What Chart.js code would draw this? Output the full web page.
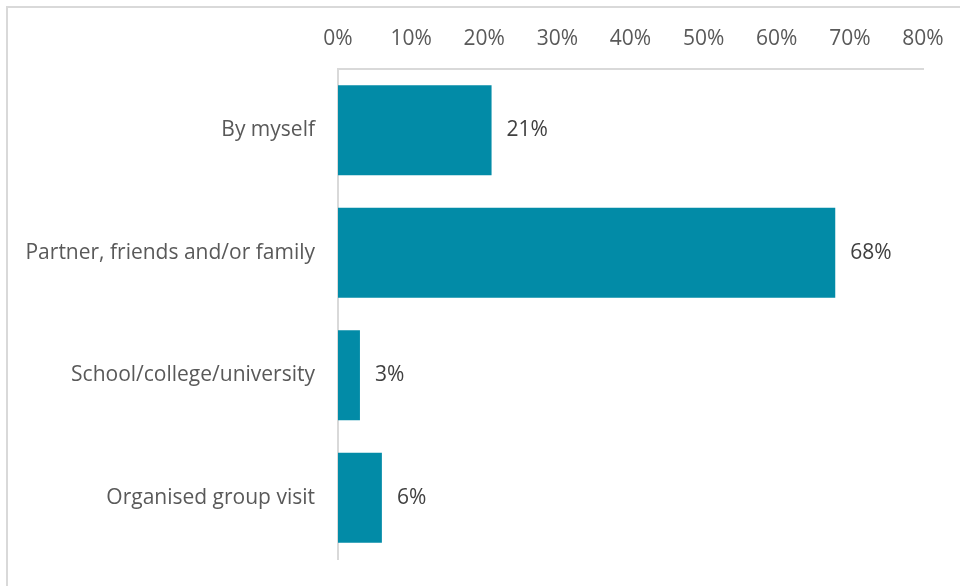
<!DOCTYPE html>
<html>
<head>
<meta charset="utf-8">
<title>Who did you visit with?</title>
<script src="https://cdn.jsdelivr.net/npm/chart.js@4.4.1/dist/chart.umd.min.js"></script>
<style>
  html, body { margin: 0; padding: 0; background: #fff; }
  #wrap { position: relative; width: 960px; height: 586px; overflow: hidden; }
  #frame {
    position: absolute; left: 6px; top: 6px; width: 1000px; height: 600px;
    border-left: 2px solid #d9d9d9; border-top: 2px solid #d9d9d9;
    box-sizing: border-box; pointer-events: none;
  }
  #visitChart { position: absolute; left: 0; top: 0; }
</style>
</head>
<body>
<div id="wrap">
  <div id="frame"></div>
  <canvas id="visitChart" width="960" height="586"></canvas>
</div>
<script>
  /* --- Data --- */
  var categories = ['By myself', 'Partner, friends and/or family', 'School/college/university', 'Organised group visit'];
  var shares = [21, 68, 3, 6];
  var tickValues = [0, 10, 20, 30, 40, 50, 60, 70, 80];

  var FONT = '"Open Sans", "DejaVu Sans", sans-serif';
  var BAR_COLOR = '#028ba7';
  var AXIS_COLOR = '#d9d9d9';

  /* value labels just past the end of each bar */
  var barValueLabels = {
    id: 'barValueLabels',
    afterDatasetsDraw: function (chart) {
      var ctx = chart.ctx;
      var meta = chart.getDatasetMeta(0);
      ctx.save();
      ctx.font = '21px ' + FONT;
      ctx.fillStyle = '#404040';
      ctx.textAlign = 'left';
      ctx.textBaseline = 'middle';
      meta.data.forEach(function (bar, i) {
        ctx.fillText(shares[i] + '%', bar.x + 15, bar.y);
      });
      ctx.restore();
    }
  };

  Chart.defaults.font.family = FONT;
  Chart.defaults.font.size = 21;
  Chart.defaults.color = '#595959';

  new Chart(document.getElementById('visitChart').getContext('2d'), {
    type: 'bar',
    data: {
      labels: categories,
      datasets: [{
        data: shares,
        backgroundColor: BAR_COLOR,
        borderWidth: 0,
        categoryPercentage: 1,
        barPercentage: 0.735
      }]
    },
    options: {
      indexAxis: 'y',
      responsive: false,
      animation: false,
      layout: { padding: { top: 0, right: 37, bottom: 27, left: 0 } },
      plugins: {
        legend: { display: false },
        tooltip: { enabled: false }
      },
      scales: {
        x: {
          position: 'top',
          min: 0,
          max: 80,
          afterBuildTicks: function (axis) {
            axis.ticks = tickValues.map(function (v) { return { value: v }; });
          },
          // fixed band height, and no extra room for the end labels
          afterFit: function (axis) {
            axis.height = 69;
            axis.paddingLeft = 0;
            axis.paddingRight = 0;
          },
          grid: { display: false, drawTicks: false },
          border: { display: true, color: AXIS_COLOR, width: 2 },
          ticks: {
            padding: 17,
            color: '#595959',
            callback: function (v) { return v + '%'; }
          }
        },
        y: {
          afterFit: function (axis) {
            axis.width = 338;
            axis.paddingTop = 0;
            axis.paddingBottom = 0;
          },
          grid: { display: false, drawTicks: false },
          border: { display: true, color: AXIS_COLOR, width: 2 },
          ticks: { padding: 23, color: '#595959' }
        }
      }
    },
    plugins: [barValueLabels]
  });
</script>
</body>
</html>
